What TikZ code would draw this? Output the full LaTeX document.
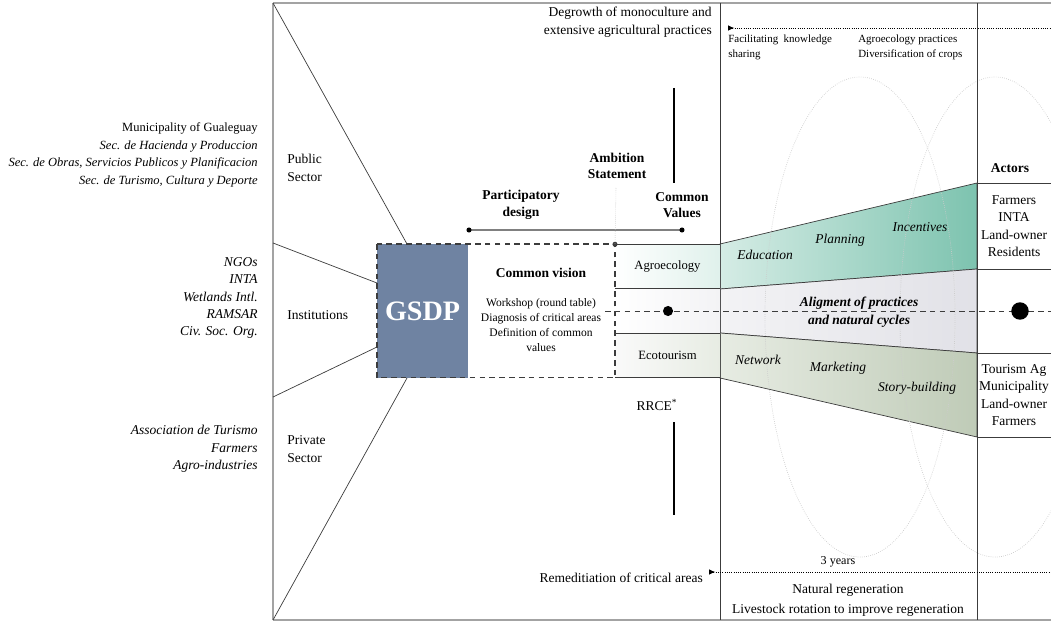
\documentclass[tikz,border=0pt]{standalone}
\usepackage{fontspec}
\setmainfont{Liberation Serif}
\usetikzlibrary{arrows.meta}

\definecolor{gsdpblue}{HTML}{6F83A2}
\definecolor{framegray}{HTML}{A3A3A3}
\definecolor{inkgray}{HTML}{3C3C3C}
\definecolor{tealdark}{HTML}{7DC3AF}
\definecolor{teallight}{HTML}{D5ECE5}
\definecolor{mistdark}{HTML}{E1E1E7}
\definecolor{mistlight}{HTML}{F3F3F5}
\definecolor{sagedark}{HTML}{BFCBB7}
\definecolor{sagelight}{HTML}{E7ECE3}

\begin{document}
\begin{tikzpicture}[x=0.025cm, y=-0.025cm,
    lbl/.style={inner sep=0pt, font={\fontsize{9.6}{12.4}\selectfont}},
    lblit/.style={lbl, font={\fontsize{9.6}{12.4}\selectfont\itshape}},
    head/.style={inner sep=0pt, align=center, font={\fontsize{9.6}{11.8}\selectfont\bfseries}},
    note/.style={inner sep=0pt, align=left, font={\fontsize{7.8}{10.6}\selectfont}},
    valbox/.style={minimum width=2.625cm, minimum height=1.11cm, inner sep=0pt, outer sep=0pt, font={\fontsize{9}{11}\selectfont}},
    timeline/.style={densely dotted, line width=0.6pt},
    bigdash/.style={dash pattern=on 4pt off 3pt, line width=1pt, inkgray}
]
    \useasboundingbox (0,0) rectangle (1051,622);
    \clip (0,0) rectangle (1051,622);

    % Frame of the diagram
    \coordinate (frameNW) at (273,3);
    \coordinate (frameSW) at (273,620);
    \coordinate (frameNE) at (1051,3);
    \coordinate (frameSE) at (1051,620);
    \coordinate (pubcut) at (273,243);
    \coordinate (privcut) at (273,397);

    % Shaded bands towards the actors
    \shadedraw[left color=teallight, right color=tealdark, draw=inkgray, line width=0.5pt]
        (720,244) -- (977,183) -- (977,269) -- (720,289) -- cycle;
    \shadedraw[left color=mistlight, right color=mistdark, draw=inkgray, line width=0.5pt]
        (720,289) -- (977,269) -- (977,353) -- (720,333) -- cycle;
    \shadedraw[left color=sagelight, right color=sagedark, draw=inkgray, line width=0.5pt]
        (720,333) -- (977,353) -- (977,437) -- (720,378) -- cycle;

    % Dotted cycles
    \draw[gray!40, densely dotted, line width=0.5pt] (860,317) ellipse [x radius=2.375cm, y radius=6cm];
    \draw[gray!40, densely dotted, line width=0.5pt] (995,317) ellipse [x radius=2.375cm, y radius=6cm];

    \draw[framegray, line width=1.4pt] (frameNW) -- (frameNE);
    \draw[framegray, line width=1.4pt] (frameSW) -- (frameSE);
    \draw[framegray, line width=0.8pt] (frameNW) -- (frameSW);
    \draw[inkgray, line width=0.6pt] (720,3) -- (720,620);
    \draw[inkgray, line width=0.6pt] (977,3) -- (977,620);

    % Common values
    \node[valbox, left color=white, right color=teallight!75] (agro) at (667.5,266.5) {Agroecology};
    \node[valbox, left color=white, right color=mistlight] (midband) at (667.5,311) {};
    \node[valbox, left color=gray!4, right color=sagelight] (eco) at (667.5,355.5) {Ecotourism};
    \draw[inkgray, line width=0.5pt] (agro.north west) -- (agro.north east);
    \draw[inkgray, line width=0.5pt] (agro.south west) -- (agro.south east);
    \draw[inkgray, line width=0.5pt] (eco.north west) -- (eco.north east);
    \draw[inkgray, line width=0.5pt] (eco.south west) -- (eco.south east);

    % GSDP and common vision
    \node[fill=gsdpblue, minimum width=2.275cm, minimum height=3.35cm, inner sep=0pt, outer sep=0pt,
        text=white, font={\fontsize{20}{24}\selectfont\bfseries}] (gsdp) at (422.5,311) {GSDP};
    \node[minimum width=3.675cm, minimum height=3.35cm, inner sep=0pt, outer sep=0pt] (cv) at (541.5,311) {};
    \node[head] (cvtitle) at (541,273) {Common vision};
    \node[inner sep=0pt, align=center, font={\fontsize{8.2}{10.7}\selectfont}] (cvtext) at (541,325)
        {Workshop (round table)\\Diagnosis of critical areas\\Definition of common\\values};
    \draw[bigdash] (gsdp.north west) rectangle (eco.south west);
    \fill[inkgray] (agro.north west) circle (1.8pt);

    % Lines from the sectors
    \draw[inkgray, line width=0.5pt] (frameNW) -- ([xshift=0.75cm]gsdp.north west);
    \draw[inkgray, line width=0.5pt] (pubcut) -- ([yshift=-0.975cm]gsdp.north west);
    \draw[inkgray, line width=0.5pt] (privcut) -- ([yshift=0.775cm]gsdp.south west);
    \draw[inkgray, line width=0.5pt] (frameSW) -- ([xshift=0.75cm]gsdp.south west);

    % Alignment axis
    \coordinate (dashStart) at (605,311);
    \coordinate (dashEnd) at (1051,311);
    \draw[inkgray, dash pattern=on 4pt off 3pt, line width=0.6pt] (dashStart) -- (dashEnd);
    \fill (668,311) circle (3.6pt);
    \fill (1020,311) circle (6.2pt);

    % Headings
    \coordinate (pdL) at (469,230);
    \coordinate (pdR) at (682,230);
    \draw[gray, line width=0.8pt] (pdL) -- (pdR);
    \fill (pdL) circle (1.8pt);
    \fill (pdR) circle (1.8pt);
    \draw[gray!50, densely dotted, line width=0.4pt] (616,188) -- (agro.north west);
    \node[head] (pdhead) at (521,205) {Participatory\\design};
    \node[head] (ambhead) at (617,166) {Ambition\\Statement};
    \node[head] (cvhead) at (682,205) {Common\\Values};

    \draw[line width=0.8pt] (674,88) -- (674,183);
    \draw[line width=0.8pt] (674,422) -- (674,515);
    \node[lbl] (rrce) at (657,405) {RRCE\textsuperscript{*}};

    % Time lines
    \coordinate (topStart) at (728,28);
    \coordinate (topEnd) at (1051,28);
    \coordinate (botStart) at (709,572);
    \coordinate (botEnd) at (1051,572);
    \draw[timeline, {Latex[reversed,length=4.5pt,width=4pt]}-] (topStart) -- (topEnd);
    \draw[timeline, {Latex[reversed,length=4.5pt,width=4pt]}-] (botStart) -- (botEnd);
    \node[lbl, align=right, anchor=east] (degrowth) at (712,22) {Degrowth of monoculture and\\extensive agricultural practices};
    \node[note, anchor=west] (facil) at (728,47) {Facilitating\ \ knowledge\\sharing};
    \node[note, anchor=west] (agrop) at (858,47) {Agroecology practices\\Diversification of crops};
    \node[lbl, anchor=east] (remed) at (703,578) {Remeditiation of critical areas};
    \node[inner sep=0pt, font={\fontsize{8.6}{10}\selectfont}] (years) at (838,562) {3 years};
    \node[lbl] (natreg) at (848,590) {Natural regeneration};
    \node[lbl] (livestock) at (848,610) {Livestock rotation to improve regeneration};

    % Band labels
    \node[lblit] (educ) at (765,255) {Education};
    \node[lblit] (plan) at (840,240) {Planning};
    \node[lblit] (incent) at (920,227) {Incentives};
    \node[inner sep=0pt, align=center, font={\fontsize{9.6}{12.4}\selectfont\bfseries\itshape}] (alig) at (859,312)
        {Aligment of practices\\and natural cycles};
    \node[lblit] (network) at (758,360) {Network};
    \node[lblit] (market) at (838,368) {Marketing};
    \node[lblit] (story) at (917,388) {Story-building};

    % Actors
    \draw[inkgray, line width=0.5pt] (977,183) -- (1051,183);
    \draw[inkgray, line width=0.5pt] (977,269) -- (1051,269);
    \draw[inkgray, line width=0.5pt] (977,353) -- (1051,353);
    \draw[inkgray, line width=0.5pt] (977,437) -- (1051,437);
    \node[head] (actors) at (1010,168) {Actors};
    \node[lbl, align=center] (actorsTop) at (1014,226) {Farmers\\INTA\\Land-owner\\Residents};
    \node[lbl, align=center] (actorsBot) at (1014,395) {Tourism Ag\\Municipality\\Land-owner\\Farmers};

    % Sectors
    \node[lbl, align=left, anchor=west] (pubsec) at (287,168) {Public\\Sector};
    \node[lbl, anchor=west] (instsec) at (287,315) {Institutions};
    \node[lbl, align=left, anchor=west] (privsec) at (287,449) {Private\\Sector};
    \node[inner sep=0pt, font={\fontsize{8.9}{12.4}\selectfont}, align=right, anchor=east] (publist) at (258,155) {Municipality of Gualeguay\\\textit{Sec. de Hacienda y Produccion}\\\textit{Sec. de Obras, Servicios Publicos y Planificacion}\\\textit{Sec. de Turismo, Cultura y Deporte}};
    \node[lblit, align=right, anchor=east] (instlist) at (258,298) {NGOs\\INTA\\Wetlands Intl.\\RAMSAR\\Civ. Soc. Org.};
    \node[lblit, align=right, anchor=east] (privlist) at (258,449) {Association de Turismo\\Farmers\\Agro-industries};
\end{tikzpicture}
\end{document}
